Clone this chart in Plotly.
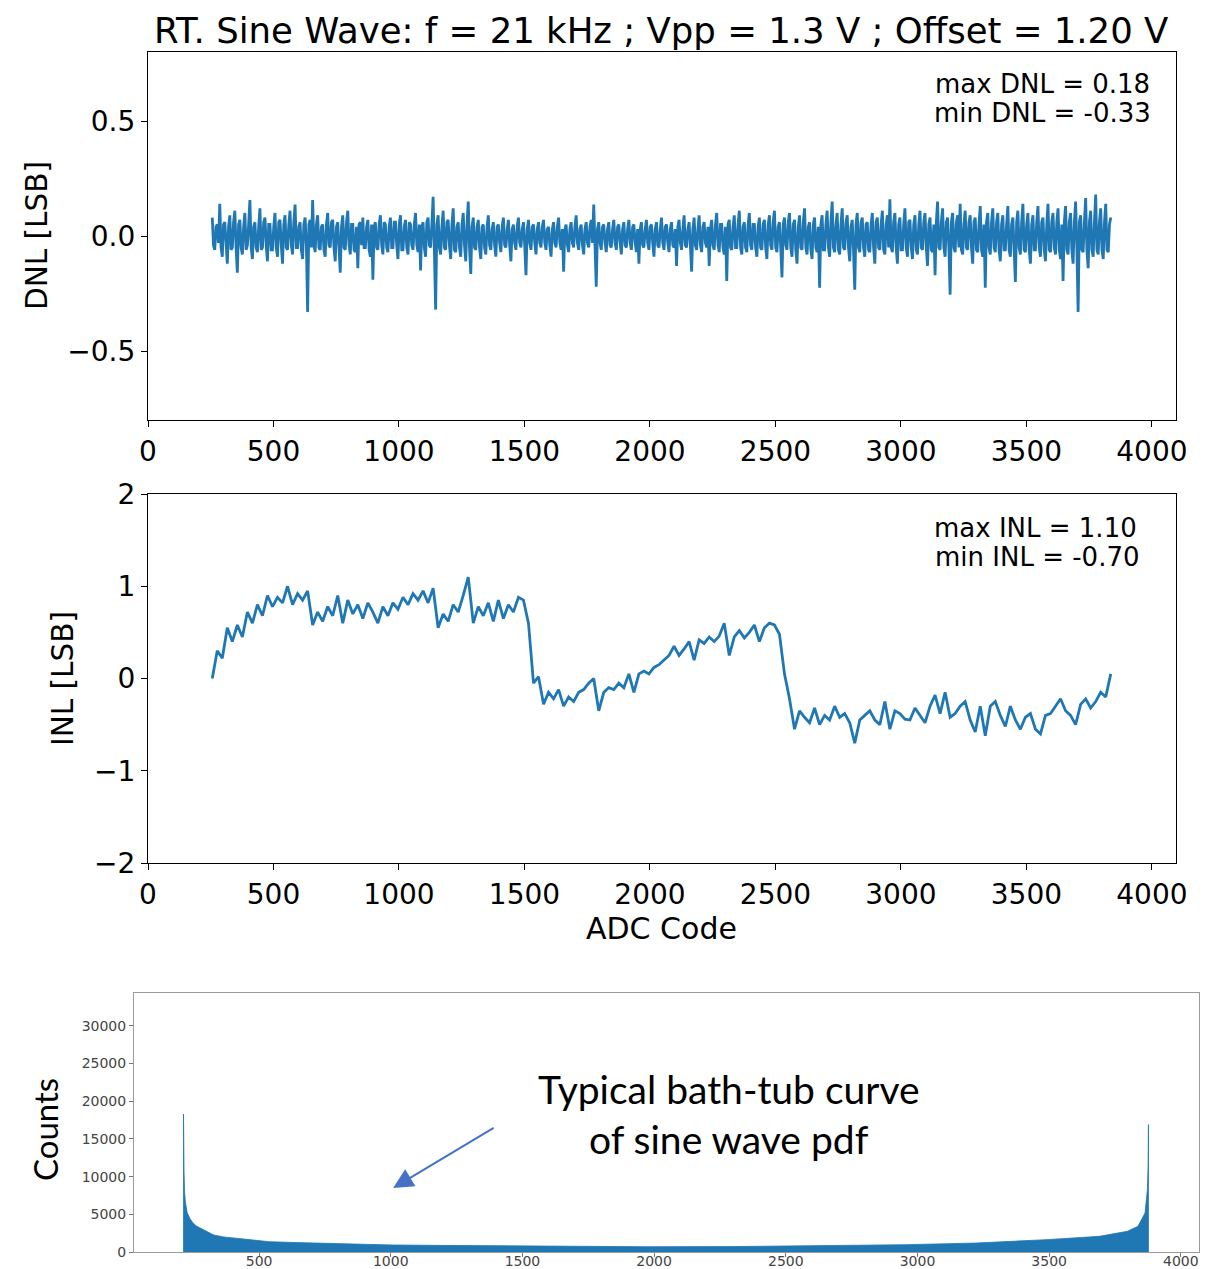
import plotly.graph_objects as go

# ---------------- data ----------------
DNL_START = 256   # first ADC code with DNL/INL data
DNL_STEP = 5      # code spacing of the DNL samples
INL_STEP = 20     # code spacing of the INL samples

dnl = [
    0.08, -0.04, -0.06, 0.04, 0.05, -0.03, 0.14, -0.05, -0.09, 0.05, 0.06, -0.04, -0.12, 0.04, 0.09, -0.06, -0.05, 0.06, 0.11, -0.05,
    -0.16, 0.05, 0.07, -0.05, -0.08, 0.04, 0.10, -0.06, -0.04, 0.05, 0.156, -0.05, -0.10, 0.04, 0.06, -0.05, -0.07, 0.04, 0.12, -0.06,
    -0.05, 0.06, 0.08, -0.04, -0.11, 0.05, 0.05, -0.06, -0.06, 0.04, 0.10, -0.05, -0.09, 0.06, 0.07, -0.04, -0.12, 0.05, 0.09, -0.05,
    -0.06, 0.05, 0.11, -0.04, -0.08, 0.06, 0.137, -0.05, -0.05, 0.04, 0.06, -0.06, -0.10, 0.05, 0.08, -0.04, -0.33, 0.05, 0.07, -0.05,
    0.156, -0.04, -0.07, 0.05, 0.09, -0.05, -0.06, 0.04, 0.05, -0.06, -0.09, 0.05, 0.10, -0.04, -0.05, 0.06, 0.07, -0.05, -0.11, 0.04,
    0.06, -0.05, -0.16, 0.04, 0.09, -0.05, -0.06, 0.06, 0.11, -0.04, -0.08, 0.05, 0.05, -0.06, -0.07, 0.04, -0.14, 0.05, 0.06, -0.04,
    0.08, -0.05, -0.05, 0.04, 0.07, -0.06, -0.09, 0.05, -0.19, 0.04, 0.06, -0.05, -0.06, 0.05, 0.09, -0.04, -0.08, 0.06, 0.05, -0.05,
    -0.07, 0.04, 0.08, -0.05, -0.05, 0.06, 0.06, -0.04, -0.10, 0.05, 0.09, -0.06, -0.06, 0.04, 0.07, -0.05, -0.08, 0.06, 0.05, -0.04,
    -0.06, 0.05, 0.10, -0.04, -0.07, 0.05, -0.15, 0.04, 0.06, -0.05, -0.09, 0.06, 0.08, -0.04, -0.05, 0.05, 0.17, -0.06, -0.32, 0.05,
    0.09, -0.05, -0.08, 0.04, 0.11, -0.05, -0.06, 0.06, 0.07, -0.04, -0.10, 0.05, 0.12, -0.06, -0.07, 0.04, 0.06, -0.05, -0.09, 0.05,
    0.10, -0.04, -0.11, 0.05, 0.15, -0.05, -0.165, 0.04, 0.08, -0.05, -0.06, 0.04, 0.07, -0.05, -0.10, 0.04, 0.05, -0.05, -0.08, 0.04,
    0.09, -0.04, -0.06, 0.03, 0.06, -0.04, -0.09, 0.04, 0.05, -0.03, -0.07, 0.04, 0.08, -0.04, -0.05, 0.03, 0.07, -0.04, -0.11, 0.03,
    0.05, -0.03, -0.06, 0.04, 0.08, -0.03, -0.05, 0.03, 0.06, -0.04, -0.17, 0.03, 0.07, -0.03, -0.06, 0.04, 0.05, -0.03, -0.08, 0.03,
    0.06, -0.03, -0.05, 0.04, 0.07, -0.03, -0.06, 0.03, 0.04, -0.04, -0.09, 0.03, 0.06, -0.03, -0.05, 0.04, 0.08, -0.03, -0.06, 0.03,
    -0.155, 0.03, 0.05, -0.04, -0.07, 0.03, 0.06, -0.03, -0.05, 0.04, 0.09, -0.03, -0.06, 0.03, 0.05, -0.04, -0.08, 0.03, 0.06, -0.03,
    -0.05, 0.04, 0.07, -0.03, 0.137, -0.04, -0.22, 0.03, 0.06, -0.03, -0.06, 0.04, 0.05, -0.03, -0.07, 0.03, 0.06, -0.04, -0.05, 0.03,
    0.07, -0.03, -0.06, 0.04, 0.05, -0.03, -0.08, 0.03, 0.06, -0.04, -0.05, 0.03, 0.07, -0.03, -0.06, 0.04, 0.05, -0.03, -0.07, 0.03,
    -0.12, 0.03, 0.06, -0.04, -0.05, 0.03, 0.07, -0.03, -0.06, 0.04, 0.05, -0.03, -0.09, 0.03, 0.06, -0.04, -0.05, 0.03, 0.08, -0.03,
    -0.06, 0.04, 0.05, -0.03, -0.07, 0.03, 0.06, -0.04, -0.05, 0.03, -0.13, 0.04, 0.07, -0.03, -0.06, 0.03, 0.09, -0.04, -0.05, 0.03,
    0.06, -0.04, -0.155, 0.03, 0.08, -0.04, -0.06, 0.03, 0.09, -0.04, -0.07, 0.04, 0.06, -0.03, -0.05, 0.04, -0.13, 0.03, 0.07, -0.04,
    -0.06, 0.05, 0.10, -0.04, -0.07, 0.05, 0.05, -0.05, -0.08, 0.04, -0.195, 0.05, 0.07, -0.05, -0.06, 0.04, 0.09, -0.05, -0.05, 0.05,
    0.11, -0.05, -0.08, 0.04, 0.06, -0.05, -0.07, 0.05, 0.10, -0.04, -0.06, 0.05, 0.05, -0.05, -0.09, 0.04, 0.08, -0.05, -0.06, 0.05,
    0.07, -0.05, -0.10, 0.05, 0.09, -0.04, -0.06, 0.06, 0.11, -0.05, -0.07, 0.04, 0.06, -0.05, -0.18, 0.05, 0.08, -0.04, -0.06, 0.06,
    0.10, -0.05, -0.09, 0.05, 0.07, -0.06, -0.12, 0.04, 0.09, -0.05, -0.06, 0.06, 0.12, -0.05, -0.08, 0.04, 0.06, -0.06, -0.10, 0.05,
    0.08, -0.05, -0.07, 0.04, -0.225, 0.05, 0.09, -0.06, -0.06, 0.05, 0.11, -0.05, -0.09, 0.06, 0.15, -0.05, -0.07, 0.05, 0.10, -0.06,
    -0.08, 0.05, 0.12, -0.05, -0.06, 0.06, 0.09, -0.05, -0.11, 0.04, 0.07, -0.06, -0.234, 0.05, 0.10, -0.05, -0.07, 0.06, 0.08, -0.05,
    -0.09, 0.05, 0.06, -0.06, -0.07, 0.05, 0.10, -0.05, -0.12, 0.06, 0.08, -0.05, -0.06, 0.05, 0.11, -0.06, -0.08, 0.05, 0.09, -0.05,
    0.16, -0.05, -0.07, 0.06, 0.10, -0.05, -0.12, 0.05, 0.08, -0.06, -0.06, 0.05, 0.12, -0.05, -0.09, 0.06, 0.07, -0.05, -0.10, 0.05,
    0.09, -0.06, -0.08, 0.05, 0.11, -0.05, -0.06, 0.06, 0.10, -0.05, -0.13, 0.05, 0.08, -0.06, -0.07, 0.05, -0.17, 0.06, 0.15, -0.05,
    -0.06, 0.06, 0.12, -0.05, -0.09, 0.06, 0.08, -0.05, -0.255, 0.06, 0.10, -0.05, -0.07, 0.06, 0.09, -0.05, 0.14, -0.06, -0.08, 0.05,
    0.11, -0.05, -0.06, 0.06, 0.09, -0.05, -0.12, 0.06, 0.08, -0.06, -0.07, 0.05, 0.13, -0.06, -0.09, 0.05, -0.225, 0.06, 0.10, -0.05,
    -0.08, 0.06, 0.12, -0.05, -0.07, 0.06, 0.10, -0.06, -0.11, 0.05, 0.09, -0.06, -0.06, 0.05, 0.13, -0.06, -0.09, 0.05, 0.08, -0.06,
    -0.20, 0.06, 0.11, -0.05, -0.08, 0.06, 0.14, -0.06, -0.07, 0.05, 0.10, -0.06, -0.12, 0.05, 0.09, -0.06, -0.06, 0.06, 0.13, -0.05,
    -0.09, 0.06, 0.08, -0.06, -0.11, 0.05, 0.14, -0.06, -0.07, 0.06, 0.10, -0.05, -0.08, 0.06, 0.12, -0.06, -0.10, 0.05, -0.195, 0.06,
    0.13, -0.06, -0.08, 0.06, 0.10, -0.06, -0.12, 0.06, 0.15, -0.05, -0.33, 0.06, 0.09, -0.06, -0.07, 0.06, 0.165, -0.06, -0.14, 0.06,
    0.11, -0.06, -0.09, 0.06, 0.18, -0.06, -0.08, 0.06, 0.12, -0.06, -0.10, 0.06, 0.14, -0.06, -0.07, 0.05, 0.08,
]

inl = [
    0.00, 0.30, 0.22, 0.55, 0.40, 0.58, 0.45, 0.72, 0.60, 0.80,
    0.68, 0.90, 0.78, 0.88, 0.82, 1.00, 0.80, 0.92, 0.85, 0.95,
    0.58, 0.72, 0.62, 0.78, 0.68, 0.90, 0.60, 0.85, 0.70, 0.80,
    0.65, 0.82, 0.72, 0.60, 0.78, 0.68, 0.82, 0.75, 0.88, 0.80,
    0.92, 0.85, 0.95, 0.82, 0.98, 0.55, 0.70, 0.62, 0.80, 0.72,
    0.90, 1.10, 0.60, 0.78, 0.68, 0.82, 0.62, 0.85, 0.65, 0.80,
    0.72, 0.88, 0.85, 0.60, -0.05, 0.02, -0.28, -0.15, -0.22, -0.12,
    -0.30, -0.20, -0.25, -0.15, -0.12, -0.05, 0.00, -0.35, -0.15, -0.10,
    -0.12, -0.05, -0.10, 0.05, -0.15, 0.05, 0.08, 0.05, 0.12, 0.15,
    0.20, 0.25, 0.35, 0.25, 0.32, 0.40, 0.20, 0.42, 0.38, 0.45,
    0.40, 0.46, 0.60, 0.25, 0.45, 0.52, 0.44, 0.50, 0.58, 0.40,
    0.55, 0.60, 0.58, 0.48, 0.05, -0.22, -0.55, -0.35, -0.42, -0.48,
    -0.32, -0.50, -0.40, -0.45, -0.30, -0.42, -0.38, -0.48, -0.70, -0.45,
    -0.40, -0.35, -0.45, -0.50, -0.25, -0.55, -0.35, -0.38, -0.44, -0.45,
    -0.32, -0.40, -0.48, -0.30, -0.18, -0.38, -0.15, -0.42, -0.38, -0.30,
    -0.25, -0.45, -0.58, -0.30, -0.62, -0.30, -0.25, -0.40, -0.52, -0.30,
    -0.45, -0.55, -0.42, -0.38, -0.55, -0.60, -0.40, -0.38, -0.30, -0.22,
    -0.35, -0.40, -0.50, -0.28, -0.22, -0.32, -0.25, -0.15, -0.20, 0.05,
]

# histogram of codes (bath-tub shaped sine-wave pdf), read at selected codes
hist_codes = [213, 213, 214, 215, 217, 220, 227, 238, 249, 262, 275, 300, 328,
              365, 406, 470, 537, 640, 745, 870, 1007, 1160, 1320, 1650, 1973,
              2300, 2691, 2957, 3224, 3491, 3691, 3797, 3837, 3864, 3873, 3876,
              3877, 3877]
hist_counts = [0, 18300, 13500, 10600, 8000, 6700, 5200, 4400, 3850, 3450, 3200,
               2700, 2250, 2000, 1850, 1580, 1370, 1250, 1150, 1030, 930, 880,
               840, 760, 700, 720, 840, 970, 1190, 1640, 2080, 2740, 3400, 5170,
               8270, 11700, 16900, 0]

x_ticks = [0, 500, 1000, 1500, 2000, 2500, 3000, 3500, 4000]
hist_x_ticks = [500, 1000, 1500, 2000, 2500, 3000, 3500, 4000]
hist_y_ticks = [0, 5000, 10000, 15000, 20000, 25000, 30000]
dnl_ticks = [-0.5, 0.0, 0.5]
dnl_tick_text = ["\u22120.5", "0.0", "0.5"]
inl_ticks = [-2, -1, 0, 1, 2]
inl_tick_text = ["\u22122", "\u22121", "0", "1", "2"]

title = "RT. Sine Wave: f = 21 kHz ; Vpp = 1.3 V ; Offset = 1.20 V"

# ---------------- figure ----------------
OFF = 8                      # page body margin of the html page
W, H = 1212 - OFF, 1269 - OFF
C0 = "#1f77b4"
MPL_FONT = "DejaVu Sans"
PPT_FONT = "Lato"

dnl_x = [DNL_START + DNL_STEP * i for i in range(len(dnl))]
inl_x = [DNL_START + INL_STEP * i for i in range(len(inl))]


def px(xp):
    return (xp - OFF) / W


def py(yp):
    return 1 - (yp - OFF) / H


fig = go.Figure()
fig.add_trace(go.Scatter(x=dnl_x, y=dnl, mode="lines", line=dict(color=C0, width=2.8),
                         xaxis="x", yaxis="y", showlegend=False))
fig.add_trace(go.Scatter(x=inl_x, y=inl, mode="lines", line=dict(color=C0, width=2.8),
                         xaxis="x2", yaxis="y2", showlegend=False))
fig.add_trace(go.Scatter(x=hist_codes, y=hist_counts, mode="lines", fill="tozeroy",
                         fillcolor=C0, line=dict(color=C0, width=0.8),
                         xaxis="x3", yaxis="y3", showlegend=False))

mpl_axis = dict(showline=True, mirror=True, linecolor="black", linewidth=1.3,
                ticks="outside", ticklen=6, tickwidth=1.3, tickcolor="black",
                showgrid=False, zeroline=False, automargin=False,
                tickfont=dict(family=MPL_FONT, size=28, color="black"))
hist_axis = dict(showline=True, mirror=True, linecolor="#9a9a9a", linewidth=1,
                 ticks="outside", ticklen=4, tickcolor="#777", showgrid=False,
                 zeroline=False, automargin=False,
                 tickfont=dict(family=MPL_FONT, size=14, color="#444"))

fig.update_layout(
    width=W, height=H, margin=dict(l=0, r=0, t=0, b=0),
    paper_bgcolor="white", plot_bgcolor="white",
    xaxis=dict(domain=[px(148), px(1176)], range=[0, 4096], tickvals=x_ticks,
               anchor="y", **mpl_axis),
    yaxis=dict(domain=[py(420), py(52)], range=[-0.8, 0.8], tickvals=dnl_ticks,
               ticktext=dnl_tick_text, anchor="x", **mpl_axis),
    xaxis2=dict(domain=[px(148), px(1176)], range=[0, 4096], tickvals=x_ticks,
                anchor="y2", **mpl_axis),
    yaxis2=dict(domain=[py(863), py(494)], range=[-2, 2], tickvals=inl_ticks,
                ticktext=inl_tick_text, anchor="x2", **mpl_axis),
    xaxis3=dict(domain=[px(134), px(1199)], range=[25, 4069], tickvals=hist_x_ticks,
                ticktext=[str(v) for v in hist_x_ticks], anchor="y3",
                ticklabelstandoff=-8, **hist_axis),
    yaxis3=dict(domain=[py(1252), py(993)], range=[0, 34350], tickvals=hist_y_ticks,
                ticktext=[str(v) for v in hist_y_ticks], anchor="x3", **hist_axis),
)


def label(text, x, y, size, family=MPL_FONT, angle=0, xanchor="center"):
    return dict(text=text, x=px(x), y=py(y), xref="paper", yref="paper",
                textangle=angle, xanchor=xanchor, yanchor="middle", showarrow=False,
                borderpad=0, font=dict(family=family, size=size, color="black"))


ann = [
    label(title, 661, 30, 35.5),
    label("DNL [LSB]", 37, 236, 29.5, angle=-90),
    label("INL [LSB]", 63, 679, 29.5, angle=-90),
    label("ADC Code", 661, 928, 30),
    label("Counts", 45, 1130, 33, family=PPT_FONT, angle=-90),
    # stats boxes (right-aligned, one line each)
    label(f"max DNL = {max(dnl):.2f}", 1151, 84, 26, xanchor="right"),
    label(f"min DNL = {min(dnl):.2f}", 1152, 113, 26, xanchor="right"),
    label(f"max INL = {max(inl):.2f}", 1138, 528, 26, xanchor="right"),
    label(f"min INL = {min(inl):.2f}", 1140, 557, 26, xanchor="right"),
    # bath-tub note
    label("Typical bath-tub curve", 729, 1089, 39, family=PPT_FONT),
    label("of sine wave pdf", 729, 1139, 39, family=PPT_FONT),
]
ann.append(dict(text="", x=1009, y=8490, xref="x3", yref="y3",
                ax=102, ay=-61, axref="pixel", ayref="pixel",
                showarrow=True, arrowhead=2, arrowsize=2, arrowwidth=2,
                arrowcolor="#4472C4", standoff=0))
fig.update_layout(annotations=ann)

fig.write_html("out.html")
